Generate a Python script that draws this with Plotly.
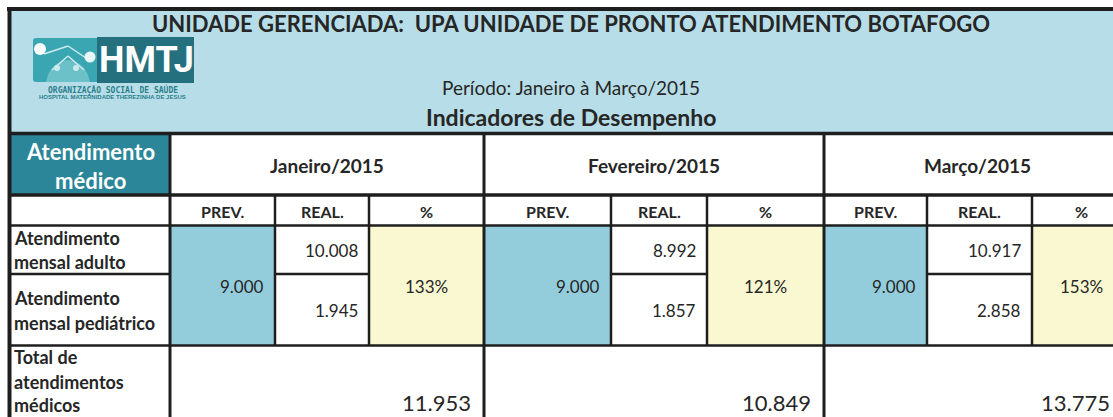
import plotly.graph_objects as go

# ---------------- data ----------------
title_text = "UNIDADE GERENCIADA:  UPA UNIDADE DE PRONTO ATENDIMENTO BOTAFOGO"
period_text = "Período: Janeiro à Março/2015"
subtitle_text = "Indicadores de Desempenho"
corner_label = ["Atendimento", "médico"]
months = ["Janeiro/2015", "Fevereiro/2015", "Março/2015"]
sub_headers = ["PREV.", "REAL.", "%"]
label_adulto = ["Atendimento", "mensal adulto"]
label_pediatrico = ["Atendimento", "mensal pediátrico"]
label_total = ["Total de", "atendimentos", "médicos"]
prev = [9000, 9000, 9000]
real_adulto = [10008, 8992, 10917]
real_pediatrico = [1945, 1857, 2858]
pct = [133, 121, 153]
totals = [11953, 10849, 13775]

# ---------------- layout geometry (pixels) ----------------
W, H = 1113, 417
col_edges = [11, 170, 275, 369, 484, 611, 707, 824, 927, 1032, 1130]
y_title_bot = 133.5
y_month_bot = 195
y_head_bot = 225.5
y_split = 274
y_data_bot = 345.5
y_end = 440

C_BAND = "#B7DEE8"
C_TEAL = "#2B869A"
C_PREV = "#93CDDC"
C_PCT = "#FAF8D0"
C_LINE = "#1E1E1E"
C_TEXT = "#262626"
FONT = "Lato, 'Open Sans', sans-serif"


def fmt(v):
    return f"{v:,}".replace(",", ".")


fig = go.Figure()
shapes = []
ann = []


def rect(x0, y0, x1, y1, color):
    shapes.append(dict(type="rect", xref="x", yref="y", x0=x0, x1=x1, y0=y0, y1=y1,
                       fillcolor=color, line=dict(width=0), layer="below"))


def hline(y, x0, x1, w):
    shapes.append(dict(type="line", xref="x", yref="y", x0=x0, x1=x1, y0=y, y1=y,
                       line=dict(color=C_LINE, width=w)))


def vline(x, y0, y1, w):
    shapes.append(dict(type="line", xref="x", yref="y", x0=x, x1=x, y0=y0, y1=y1,
                       line=dict(color=C_LINE, width=w)))


def text(x, y, s, size, bold=False, color=C_TEXT, anchor="center", family=FONT):
    ann.append(dict(xref="x", yref="y", x=x, y=y, text=(f"<b>{s}</b>" if bold else s),
                    showarrow=False, xanchor=anchor, yanchor="middle", borderpad=0,
                    font=dict(family=family, size=size, color=color)))


# backgrounds
rect(col_edges[0], 10, W + 5, y_title_bot, C_BAND)
rect(col_edges[0], y_title_bot, col_edges[1], y_month_bot, C_TEAL)
for i in range(len(months)):
    c = col_edges[1 + 3 * i: 5 + 3 * i]
    rect(c[0], y_head_bot, c[1], y_data_bot, C_PREV)
    rect(c[2], y_head_bot, c[3], y_data_bot, C_PCT)

# logo (approximate drawing)
shapes.append(dict(type="path", xref="x", yref="y",
                   path="M 36 38 L 97 38 L 97 82 L 36 82 Q 33 82 33 79 L 33 41 Q 33 38 36 38 Z",
                   fillcolor="#3AA6B1", line=dict(width=0)))
shapes.append(dict(type="path", xref="x", yref="y",
                   path="M 46 82 Q 50 62 68 60 Q 86 62 90 82 Z",
                   fillcolor="#6CC0C8", line=dict(width=0)))
for (x0, y0, x1, y1) in [(44, 54, 68, 46), (68, 46, 86, 58), (52, 70, 68, 56), (68, 56, 84, 70)]:
    shapes.append(dict(type="line", xref="x", yref="y", x0=x0, y0=y0, x1=x1, y1=y1,
                       line=dict(color="#CDEBEE", width=1.5)))
for (cx, cy, r, col) in [(40, 49, 6, "white"), (90, 57, 5.5, "#EAF7F8"),
                         (57, 68, 3, "#CDEBEE"), (76, 68, 3, "#CDEBEE")]:
    shapes.append(dict(type="circle", xref="x", yref="y", x0=cx - r, x1=cx + r, y0=cy - r, y1=cy + r,
                       fillcolor=col, line=dict(width=0)))
shapes.append(dict(type="rect", xref="x", yref="y", x0=97, x1=194, y0=37, y1=83,
                   fillcolor="#25707E", line=dict(width=0)))
text(146, 60, "HMTJ", 36, bold=True, color="white",
     family="'Liberation Sans Narrow', 'Arial Narrow', Roboto, sans-serif")
text(112.5, 89, "ORGANIZAÇÃO SOCIAL DE SAÚDE", 8, bold=True, color="#2C7F8D",
     family="'DejaVu Sans Mono', monospace")
text(112.5, 97, "HOSPITAL MATERNIDADE THEREZINHA DE JESUS", 6, bold=True, color="#2C7F8D",
     family="'Liberation Sans Narrow', sans-serif")

# title texts
mid = (col_edges[0] + col_edges[-1]) / 2
text(mid, 23, title_text, 22, bold=True)
text(mid, 87, period_text, 19)
text(mid, 117, subtitle_text, 23, bold=True)

# corner label
text((col_edges[0] + col_edges[1]) / 2, 151, corner_label[0], 22, bold=True, color="white")
text((col_edges[0] + col_edges[1]) / 2, 180, corner_label[1], 22, bold=True, color="white")

# row labels
lx = col_edges[0] + 2
for s, y in zip(label_adulto, [238, 262]):
    text(lx, y, s, 18, bold=True, anchor="left")
for s, y in zip(label_pediatrico, [298, 323]):
    text(lx, y, s, 18, bold=True, anchor="left")
for s, y in zip(label_total, [357, 382, 405]):
    text(lx, y, s, 18, bold=True, anchor="left")

# month blocks
for i, m in enumerate(months):
    c = col_edges[1 + 3 * i: 5 + 3 * i]
    text((c[0] + c[3]) / 2, 165, m, 19, bold=True)
    for j, sh in enumerate(sub_headers):
        text((c[j] + c[j + 1]) / 2, 211, sh, 16, bold=True)
    text(c[1] - 10, 286, fmt(prev[i]), 17, anchor="right")
    text(c[2] - 10, 250, fmt(real_adulto[i]), 17, anchor="right")
    text(c[2] - 10, 310, fmt(real_pediatrico[i]), 17, anchor="right")
    text((c[2] + c[3]) / 2, 286, f"{pct[i]}%", 17)
    tx = min(c[3] - 12, W - 2)
    text(tx, 402, fmt(totals[i]), 22, anchor="right")

# grid lines
hline(9, 7, W + 5, 4)
vline(9.5, 7, y_end, 4)
hline(y_title_bot, 9, W + 5, 3.5)
hline(y_month_bot, 9, W + 5, 3.5)
hline(y_head_bot, 9, W + 5, 2.5)
hline(y_data_bot, 9, W + 5, 2.5)
hline(y_split, col_edges[0], col_edges[1], 2.5)
for i in range(len(months)):
    c = col_edges[1 + 3 * i: 5 + 3 * i]
    hline(y_split, c[1], c[2], 2.5)
    vline(c[1], y_month_bot, y_data_bot, 2.5)
    vline(c[2], y_month_bot, y_data_bot, 2.5)
    vline(c[3], y_title_bot, y_end, 3)
vline(col_edges[1], y_title_bot, y_end, 3)

fig.update_layout(
    width=W, height=H,
    margin=dict(l=0, r=0, t=0, b=0),
    paper_bgcolor="white", plot_bgcolor="white",
    xaxis=dict(range=[0, W], visible=False, fixedrange=True),
    yaxis=dict(range=[H, 0], visible=False, fixedrange=True),
    shapes=shapes, annotations=ann, showlegend=False,
)

fig.write_html("out.html", config={"displayModeBar": False},
               post_script="document.body.style.margin='0';document.body.style.overflow='hidden';")
